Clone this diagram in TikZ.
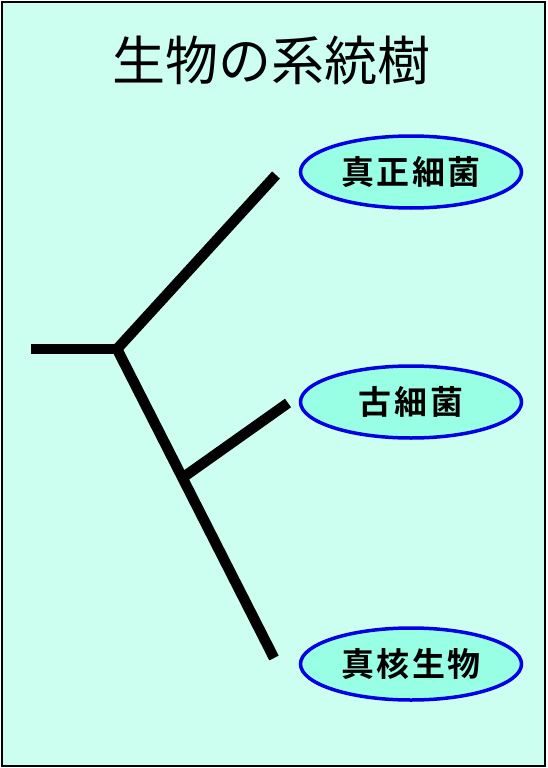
\documentclass[tikz,border=0pt]{standalone}
\usepackage{fontspec}
\newfontfamily\cjk{Noto Sans CJK JP}
\newfontfamily\cjkbold[LetterSpace=8]{Noto Sans CJK JP Bold}
\usetikzlibrary{shapes.geometric}
\definecolor{bgcyan}{RGB}{204,255,240}
\definecolor{ovalfill}{RGB}{153,255,228}
\definecolor{ovalblue}{RGB}{0,0,230}
\tikzset{
    branch/.style={line width=10.5pt},
    taxon/.style={ellipse,draw=ovalblue,line width=3.5pt,fill=ovalfill,
                  minimum width=221pt,minimum height=72pt,inner sep=0pt,
                  font=\cjkbold\fontsize{33}{33}\selectfont}
}
\begin{document}
\begin{tikzpicture}[x=1pt,y=-1pt]
        \useasboundingbox (0,0) rectangle (547,768);
        \draw[fill=bgcyan,line width=1.5pt] (2,2) rectangle (545,766);

        \node (title) at (271,60) {\cjk\fontsize{53}{53}\selectfont 生物の系統樹};

        \node[taxon] (bac) at (411,172) {真正細菌};
        \node[taxon] (arc) at (411,402) {古細菌};
        \node[taxon] (euk) at (411,664) {真核生物};

        \coordinate (root) at (31,349);
        \coordinate (j1) at (117,349);
        \coordinate (j2) at (185,476);
        \coordinate (tb) at (276,175);
        \coordinate (ta) at (288,403);
        \coordinate (te) at (274,658);

        \draw[branch] (root) -- (j1);
        \draw[branch] (j1) -- (tb);
        \draw[branch] (j1) -- (te);
        \draw[branch] (j2) -- (ta);
    \end{tikzpicture}
\end{document}
